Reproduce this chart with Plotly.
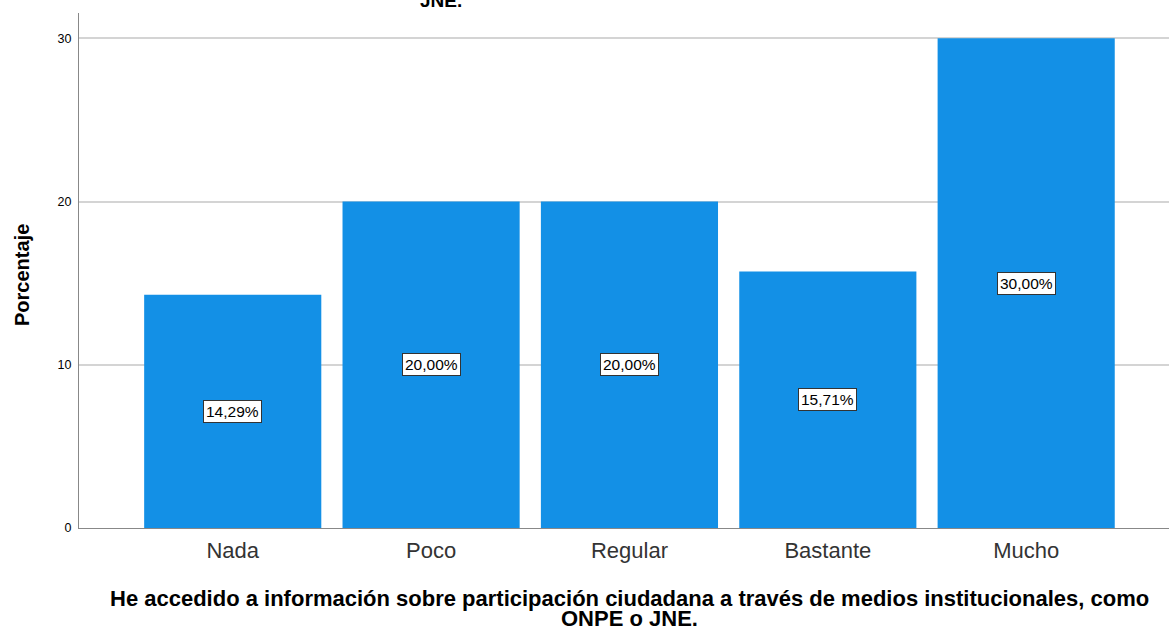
import plotly.graph_objects as go

categorias = ["Nada", "Poco", "Regular", "Bastante", "Mucho"]
porcentajes = [14.29, 20.00, 20.00, 15.71, 30.00]
etiquetas = ["14,29%", "20,00%", "20,00%", "15,71%", "30,00%"]
y_ticks = [0, 10, 20, 30]
titulo_x = [
    "He accedido a información sobre participación ciudadana a través de medios institucionales, como",
    "ONPE o JNE.",
]

FONT = "Liberation Sans, Arial, sans-serif"

fig = go.Figure(
    go.Bar(
        x=list(range(len(categorias))),
        y=porcentajes,
        marker=dict(color="#1390E6", line=dict(width=0)),
        width=0.893,
        hoverinfo="skip",
    )
)

# value labels in white boxes at mid-height
for i, (v, t) in enumerate(zip(porcentajes, etiquetas)):
    fig.add_annotation(
        x=i, y=v / 2, text=t, showarrow=False,
        font=dict(family=FONT, size=15.5, color="#000000"),
        bgcolor="#ffffff", bordercolor="#333333", borderwidth=1, borderpad=2,
    )

# cut-off title remnant at the very top
fig.add_annotation(
    x=(441 - 79) / (1169 - 79), xref="paper", xanchor="center", y=1, yref="paper",
    yanchor="bottom", yshift=0, text="<b>JNE.</b>", showarrow=False,
    font=dict(family=FONT, size=19, color="#000000"),
)

# x axis title, two tight lines
for linea, dy in zip(titulo_x, [-70, -90]):
    fig.add_annotation(
        x=(630 - 79) / (1169 - 79), xref="paper", xanchor="center", y=0, yref="paper",
        yanchor="middle", yshift=dy, text=f"<b>{linea}</b>", showarrow=False,
        font=dict(family=FONT, size=22, color="#000000"),
    )

# y axis title
fig.add_annotation(
    x=0, xref="paper", xanchor="center", xshift=-57, y=15.5, yref="y", textangle=-90,
    text="<b>Porcentaje</b>", showarrow=False,
    font=dict(family=FONT, size=20, color="#000000"),
)

fig.update_layout(
    width=1169, height=630,
    paper_bgcolor="#ffffff", plot_bgcolor="#ffffff",
    margin=dict(l=79, r=0, t=13, b=102),
    showlegend=False,
    font=dict(family=FONT, color="#000000"),
    xaxis=dict(
        tickmode="array", tickvals=list(range(len(categorias))), ticktext=categorias,
        range=[-0.775, 4.72], showgrid=False, zeroline=False,
        showline=True, linecolor="#888888", linewidth=1, ticks="",
        tickfont=dict(family=FONT, size=22, color="#333333"),
        ticklabelstandoff=3,
    ),
    yaxis=dict(
        range=[0, 31.55], tickvals=y_ticks, showgrid=True,
        gridcolor="#d4d4d4", gridwidth=2, zeroline=False,
        showline=True, linecolor="#888888", linewidth=1, ticks="",
        tickfont=dict(family=FONT, size=12.5, color="#000000"),
        ticklabelstandoff=4,
    ),
)

fig.write_html(
    "out.html",
    config={"displayModeBar": False},
    post_script="document.body.style.margin='0';",
)
